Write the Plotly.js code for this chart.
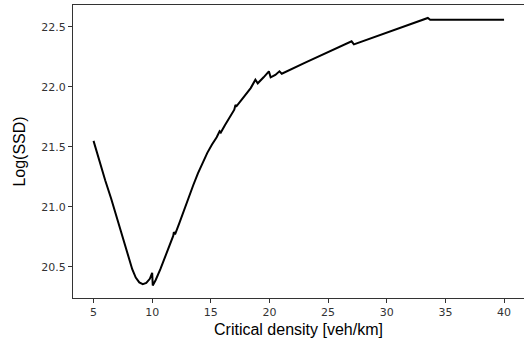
<!DOCTYPE html>
<html><head><meta charset="utf-8">
<script src="https://cdn.plot.ly/plotly-3.0.1.min.js"></script>
<style>html,body{margin:0;padding:0;background:#fff}</style>
</head><body>
<div id="chart" style="width:524px;height:345px"></div>
<script>
const density = [5.0,5.5,6.0,6.5,7.0,7.5,8.0,8.3,8.6,8.9,9.2,9.5,9.8,10.0,10.05,10.3,10.7,11.1,11.5,11.8,11.85,11.95,12.3,12.7,13.1,13.5,13.9,14.3,14.7,15.1,15.5,15.75,15.85,16.2,16.6,17.0,17.1,17.2,17.6,18.0,18.4,18.8,19.0,19.5,19.95,20.1,20.5,20.85,21.05,23.0,25.0,27.0,27.2,30.0,33.5,33.7,40.0];
const logSSD = [21.55,21.38,21.22,21.07,20.90,20.73,20.57,20.48,20.41,20.37,20.355,20.365,20.40,20.45,20.345,20.39,20.48,20.58,20.68,20.76,20.79,20.77,20.86,20.97,21.08,21.18,21.28,21.37,21.45,21.52,21.58,21.63,21.62,21.68,21.74,21.81,21.85,21.84,21.89,21.94,21.99,22.06,22.03,22.08,22.13,22.08,22.10,22.13,22.11,22.20,22.29,22.38,22.355,22.45,22.575,22.56,22.56];
const xTicks = [5,10,15,20,25,30,35,40];
const yTicks = [20.5,21.0,21.5,22.0,22.5];

Plotly.newPlot('chart', [{
  x: density, y: logSSD, type: 'scatter', mode: 'lines',
  line: {color: '#000000', width: 2}
}], {
  width: 524, height: 345,
  margin: {l: 73, r: 0, t: 5, b: 47},
  paper_bgcolor: '#fff', plot_bgcolor: '#fff',
  showlegend: false,
  xaxis: {
    range: [3.25, 41.7], tickvals: xTicks, ticktext: xTicks.map(String),
    showgrid: false, zeroline: false, showline: true, mirror: true,
    linecolor: '#333', linewidth: 1, ticks: 'outside', ticklen: 4, tickcolor: '#333',
    tickfont: {family: 'DejaVu Sans', size: 11, color: '#333'},
    title: {text: 'Critical density [veh/km]', font: {family: 'Liberation Sans', size: 16, color: '#000'}, standoff: 5}
  },
  yaxis: {
    range: [20.24, 22.683], tickvals: yTicks, ticktext: yTicks.map(v => v.toFixed(1)),
    showgrid: false, zeroline: false, showline: true, mirror: false,
    linecolor: '#333', linewidth: 1, ticks: 'outside', ticklen: 4, tickcolor: '#333',
    tickfont: {family: 'DejaVu Sans', size: 11, color: '#333'},
    title: {text: 'Log(SSD)', font: {family: 'Liberation Sans', size: 16, color: '#000'}, standoff: 11}
  }
}, {staticPlot: true});
</script>
</body></html>
